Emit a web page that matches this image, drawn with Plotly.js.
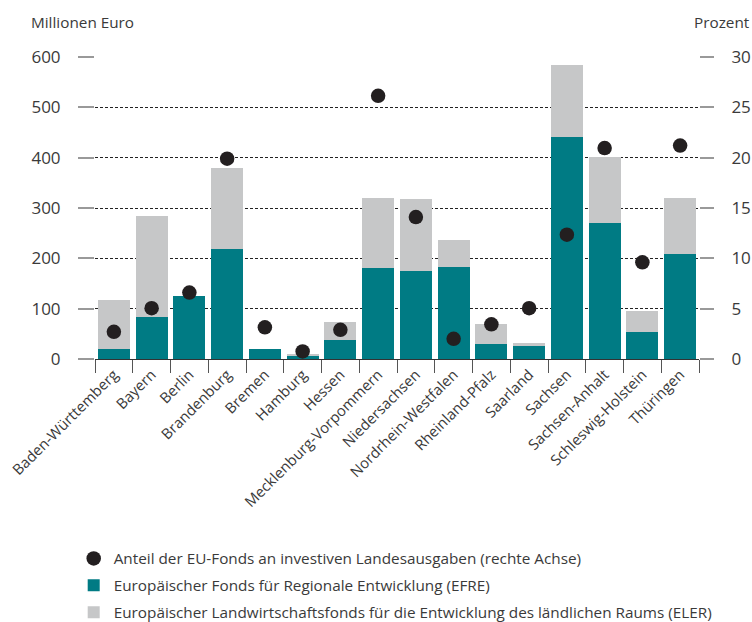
<!DOCTYPE html>
<html><head><meta charset="utf-8">
<script src="https://cdn.plot.ly/plotly-3.0.1.min.js"></script>
<style>html,body{margin:0;padding:0;background:#fff}#chart{width:752px;height:622px}</style>
</head><body><div id="chart"></div>
<script>
const laender = ["Baden-Württemberg","Bayern","Berlin","Brandenburg","Bremen","Hamburg","Hessen","Mecklenburg-Vorpommern","Niedersachsen","Nordrhein-Westfalen","Rheinland-Pfalz","Saarland","Sachsen","Sachsen-Anhalt","Schleswig-Holstein","Thüringen"];
const efre = [20, 83, 126, 218, 20, 5, 38, 180, 175, 183, 30, 26, 442, 271, 53, 209];
const eler = [98, 202, 0, 162, 0, 4, 36, 140, 142, 54, 40, 6, 143, 131, 43, 110];
const anteil = [2.7, 5.05, 6.6, 19.9, 3.15, 0.75, 2.9, 26.15, 14.1, 2.0, 3.45, 5.05, 12.35, 20.95, 9.6, 21.2];
const yTicks = [0, 100, 200, 300, 400, 500, 600];
const y2Ticks = [0, 5, 10, 15, 20, 25, 30];

const font = "Open Sans, Noto Sans, sans-serif";
const txt = "#3a3a3a";

const traces = [
  {type:"scatter", mode:"markers", x:laender, y:anteil, yaxis:"y2", legendgroup:"a",
   name:"Anteil der EU-Fonds an investiven Landesausgaben (rechte Achse)",
   marker:{color:"#231f20", size:14.5}, hoverinfo:"skip"},
  {type:"bar", x:laender, y:efre, name:"Europäischer Fonds für Regionale Entwicklung (EFRE)", legendgroup:"b",
   marker:{color:"#007b84"}},
  {type:"bar", x:laender, y:eler, name:"Europäischer Landwirtschaftsfonds für die Entwicklung des ländlichen Raums (ELER)", legendgroup:"c",
   marker:{color:"#c6c7c8"}}
];

const layout = {
  width:752, height:622,
  margin:{l:95, r:53, t:57, b:263, autoexpand:false},
  paper_bgcolor:"#fff", plot_bgcolor:"#fff",
  font:{family:font, color:txt, size:14},
  barmode:"stack", bargap:0.15,
  showlegend:true,
  legend:{xref:"container", yref:"container", x:0.098, y:1-542/622, xanchor:"left", yanchor:"top",
          traceorder:"grouped", tracegroupgap:4, font:{size:15.3, color:txt}, itemwidth:30,
          bgcolor:"rgba(0,0,0,0)"},
  xaxis:{type:"category", range:[-0.5, 15.5], tickangle:-45, tickson:"boundaries", ticks:"outside", ticklen:13,
         tickcolor:"#555", showline:true, linecolor:"#333", linewidth:1.2, showgrid:false,
         tickfont:{size:14.8, color:txt}, fixedrange:true, automargin:false},
  yaxis:{range:[0,600], tickvals:yTicks, ticks:"outside", ticklen:16, tickwidth:2, tickcolor:"#999",
         ticklabelstandoff:14, showgrid:true, gridcolor:"#222", gridwidth:1, griddash:"3px,2px",
         zeroline:false, showline:false, tickfont:{size:17, color:txt}, automargin:false},
  yaxis2:{range:[0,30], tickvals:y2Ticks, overlaying:"y", side:"right", ticks:"outside", ticklen:14,
          tickwidth:2, tickcolor:"#999", ticklabelstandoff:14, showgrid:false, zeroline:false, showline:false,
          tickfont:{size:17, color:txt}, automargin:false},
  annotations:[
    {xref:"paper", yref:"paper", x:-0.11, y:1.075, xanchor:"left", yanchor:"bottom", showarrow:false,
     text:"Millionen Euro", font:{size:15.3, color:txt}},
    {xref:"paper", yref:"paper", x:1.088, y:1.075, xanchor:"right", yanchor:"bottom", showarrow:false,
     text:"Prozent", font:{size:15.3, color:txt}}
  ]
};
Plotly.newPlot("chart", traces, layout, {displayModeBar:false, staticPlot:true});
</script></body></html>
